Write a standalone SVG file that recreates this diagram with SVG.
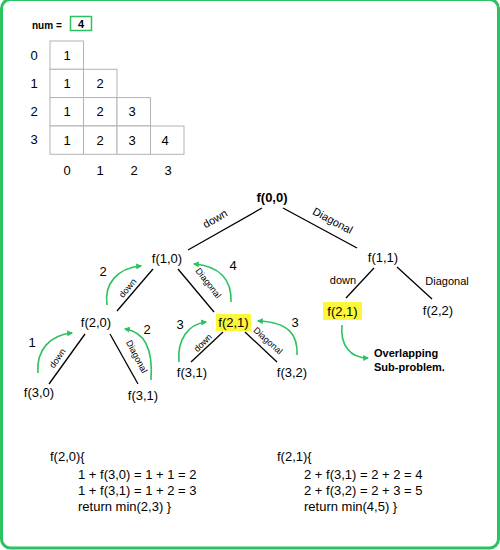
<svg xmlns="http://www.w3.org/2000/svg" width="500" height="550" viewBox="0 0 500 550">
<defs>
<style>
text{font-family:"Liberation Sans",Arial,sans-serif;fill:#000}
.n{font-size:13px;text-anchor:middle}
.b{font-weight:bold}
.lbl{font-size:11px;text-anchor:middle}
.sm{font-size:9px;text-anchor:middle}
.code{font-size:13px}
.edge{stroke:#000;stroke-width:1.3;fill:none}
.arr{stroke:#2bc25f;stroke-width:1.6;fill:none;marker-end:url(#ah)}
.cell{fill:#fff;stroke:#b3b3b3;stroke-width:1}
.hl{fill:#fbf73a}
</style>
<marker id="ah" viewBox="0 0 10 10" refX="8" refY="5" markerWidth="6" markerHeight="6" markerUnits="userSpaceOnUse" orient="auto">
<path d="M0,0 L10,5 L0,10 z" fill="#2bc25f"/>
</marker>
</defs>
<rect x="1.5" y="-0.5" width="497" height="548.5" rx="9" fill="#fff" stroke="#2bc25f" stroke-width="3"/>

<g id="num">
<text x="32" y="29" class="b" font-size="10">num =</text>
<rect x="70.5" y="16.5" width="21" height="14" fill="#fff" stroke="#2bc25f" stroke-width="1.5"/>
<text x="81" y="28" class="b" font-size="11" text-anchor="middle">4</text>
</g>

<g id="table">
<rect class="cell" x="50" y="41" width="33.5" height="28.3"/>
<rect class="cell" x="50" y="69.3" width="33.5" height="28.3"/>
<rect class="cell" x="83.5" y="69.3" width="33.5" height="28.3"/>
<rect class="cell" x="50" y="97.6" width="33.5" height="28.3"/>
<rect class="cell" x="83.5" y="97.6" width="33.5" height="28.3"/>
<rect class="cell" x="117" y="97.6" width="33.5" height="28.3"/>
<rect class="cell" x="50" y="126" width="33.5" height="28.3"/>
<rect class="cell" x="83.5" y="126" width="33.5" height="28.3"/>
<rect class="cell" x="117" y="126" width="33.5" height="28.3"/>
<rect class="cell" x="150.5" y="126" width="33.5" height="28.3"/>
<text class="n" x="67" y="60">1</text>
<text class="n" x="67" y="88">1</text><text class="n" x="100" y="88">2</text>
<text class="n" x="67" y="116">1</text><text class="n" x="100" y="116">2</text><text class="n" x="132" y="116">3</text>
<text class="n" x="67" y="145">1</text><text class="n" x="100" y="145">2</text><text class="n" x="132" y="145">3</text><text class="n" x="165" y="145">4</text>
<text class="n" x="34" y="60">0</text>
<text class="n" x="34" y="88">1</text>
<text class="n" x="34" y="116">2</text>
<text class="n" x="34" y="144">3</text>
<text class="n" x="67" y="175">0</text>
<text class="n" x="100" y="175">1</text>
<text class="n" x="134" y="175">2</text>
<text class="n" x="168" y="175">3</text>
</g>

<g id="connectors">
<line class="edge" x1="262" y1="208" x2="188" y2="250"/>
<line class="edge" x1="283" y1="208" x2="357" y2="248"/>
<line class="edge" x1="153" y1="269" x2="117" y2="311"/>
<line class="edge" x1="178" y1="269" x2="214" y2="312"/>
<line class="edge" x1="85" y1="334" x2="49" y2="384"/>
<line class="edge" x1="110" y1="334" x2="138" y2="384"/>
<line class="edge" x1="223" y1="332" x2="191" y2="362"/>
<line class="edge" x1="245" y1="332" x2="277" y2="362"/>
<line class="edge" x1="374" y1="268" x2="346" y2="298"/>
<line class="edge" x1="397" y1="267" x2="432" y2="299"/>
<text class="lbl" transform="translate(217,222) rotate(-30)">down</text>
<text class="lbl" transform="translate(331,224) rotate(28)">Diagonal</text>
<text class="sm" transform="translate(130,290) rotate(-50)">down</text>
<text class="sm" transform="translate(206,285) rotate(52)">Diagonal</text>
<text class="sm" transform="translate(60,360) rotate(-55)">down</text>
<text class="sm" transform="translate(134,358) rotate(62)">Diagonal</text>
<text class="sm" transform="translate(205,345) rotate(-45)">down</text>
<text class="sm" transform="translate(266,343) rotate(42)">Diagonal</text>
<text class="lbl" x="343" y="284">down</text>
<text class="lbl" x="447" y="285">Diagonal</text>
<path class="arr" d="M107,305 C104,284 117,268 141,266"/>
<path class="arr" d="M38,373 C36,350 50,335 72,333"/>
<path class="arr" d="M151,380 C153,352 146,332 125,329"/>
<path class="arr" d="M231,302 C232,280 220,266 194,264"/>
<path class="arr" d="M179,362 C177,340 188,324 206,322"/>
<path class="arr" d="M297,355 C298,335 289,322 258,321"/>
<path class="arr" d="M342,325 C340,345 350,358 368,358"/>
<text class="n" x="103" y="276">2</text>
<text class="n" x="32" y="347">1</text>
<text class="n" x="147" y="334">2</text>
<text class="n" x="233" y="270">4</text>
<text class="n" x="180" y="329">3</text>
<text class="n" x="295" y="327">3</text>
</g>

<g id="f00"><text class="n b" x="272" y="202">f(0,0)</text></g>
<g id="f10"><text class="n" x="167" y="263">f(1,0)</text></g>
<g id="f11"><text class="n" x="383" y="262">f(1,1)</text></g>
<g id="f20"><text class="n" x="96" y="327">f(2,0)</text></g>
<g id="f21a"><rect class="hl" x="216" y="314" width="35" height="17"/><text class="n" x="233.5" y="327">f(2,1)</text></g>
<g id="f21b"><rect class="hl" x="323" y="302" width="39" height="18"/><text class="n" x="342.5" y="316">f(2,1)</text></g>
<g id="f22"><text class="n" x="438" y="315">f(2,2)</text></g>
<g id="f30"><text class="n" x="39" y="397">f(3,0)</text></g>
<g id="f31a"><text class="n" x="143" y="400">f(3,1)</text></g>
<g id="f31b"><text class="n" x="192" y="377">f(3,1)</text></g>
<g id="f32"><text class="n" x="292" y="377">f(3,2)</text></g>
<g id="note"><text class="b" font-size="11" x="374" y="357">Overlapping</text><text class="b" font-size="11" x="374" y="371">Sub-problem.</text></g>

<g id="code-left">
<text class="code" x="50" y="461">f(2,0){</text>
<text class="code" x="78" y="479">1 + f(3,0) = 1 + 1 = 2</text>
<text class="code" x="78" y="495">1 + f(3,1) = 1 + 2 = 3</text>
<text class="code" x="78" y="511">return min(2,3) }</text>
</g>
<g id="code-right">
<text class="code" x="277" y="461">f(2,1){</text>
<text class="code" x="304" y="479">2 + f(3,1) = 2 + 2 = 4</text>
<text class="code" x="304" y="495">2 + f(3,2) = 2 + 3 = 5</text>
<text class="code" x="304" y="511">return min(4,5) }</text>
</g>
</svg>
